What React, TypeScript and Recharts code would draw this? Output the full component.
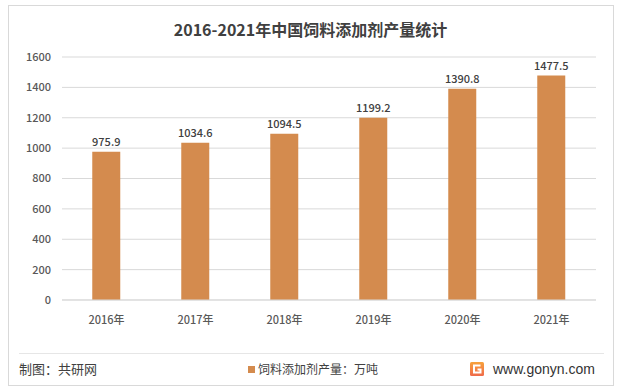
import React from 'react';
import { BarChart, Bar, XAxis, YAxis, CartesianGrid, LabelList } from 'recharts';

const years = ['2016年', '2017年', '2018年', '2019年', '2020年', '2021年'];
const output = [975.9, 1034.6, 1094.5, 1199.2, 1390.8, 1477.5];
const yTicks = [0, 200, 400, 600, 800, 1000, 1200, 1400, 1600];

const data = years.map((year, i) => ({ year, output: output[i] }));

const FONT = '"Noto Sans CJK SC", "Microsoft YaHei", sans-serif';
const BAR_COLOR = '#D48B4E';

const App: React.FC = () => {
  return (
    <div style={{ position: 'absolute', left: 0, top: 0, width: 621, height: 391, background: '#fff', fontFamily: FONT }}>
      {/* outer frame */}
      <div style={{ position: 'absolute', left: 8, top: 5, width: 606, height: 381, border: '1px solid #d9d9d9', boxSizing: 'border-box' }} />
      <div style={{ position: 'absolute', left: 0, top: 17, width: 621, textAlign: 'center', fontSize: 16, fontWeight: 'bold', color: '#404040' }}>
        2016-2021年中国饲料添加剂产量统计
      </div>
      <div style={{ position: 'absolute', left: 0, top: 0 }}>
        <BarChart width={621} height={391} data={data} margin={{ top: 57, right: 25, left: 12, bottom: 51 }} barCategoryGap="34%">
          <CartesianGrid vertical={false} stroke="#d9d9d9" />
          <XAxis
            dataKey="year"
            height={40}
            axisLine={{ stroke: '#d9d9d9' }}
            tickLine={false}
            tickMargin={10}
            tick={{ fontSize: 11, fill: '#595959', fontFamily: FONT, fontWeight: 500 }}
          />
          <YAxis
            domain={[0, 1600]}
            ticks={yTicks}
            width={50}
            axisLine={false}
            tickLine={false}
            tickMargin={5}
            tick={{ fontSize: 11, fill: '#595959', fontFamily: FONT, fontWeight: 500 }}
          />
          <Bar dataKey="output" fill={BAR_COLOR} isAnimationActive={false}>
            <LabelList dataKey="output" position="top" offset={6} style={{ fontSize: 11, fill: '#404040', fontFamily: FONT, fontWeight: 500 }} formatter={(v: number) => v.toFixed(1)} />
          </Bar>
        </BarChart>
      </div>
      {/* footer */}
      <div style={{ position: 'absolute', left: 19, top: 353, width: 585, borderTop: '1px solid #e6e6e6' }} />
      <div style={{ position: 'absolute', left: 19, top: 360, fontSize: 13, lineHeight: '18px', color: '#404040' }}>制图：共研网</div>
      <div style={{ position: 'absolute', left: 248, top: 360, display: 'flex', alignItems: 'center', fontSize: 12, lineHeight: '18px', color: '#404040' }}>
        <span style={{ width: 7, height: 7, background: BAR_COLOR, display: 'inline-block', marginRight: 3 }} />
        饲料添加剂产量：万吨
      </div>
      <div style={{ position: 'absolute', left: 470, top: 360, display: 'flex', alignItems: 'center', height: 18 }}>
        <svg width={14} height={14} viewBox="0 0 14 14">
          <defs>
            <linearGradient id="logoGrad" x1="0" y1="0" x2="0" y2="1">
              <stop offset="0%" stopColor="#F7A23B" />
              <stop offset="100%" stopColor="#EF6A4A" />
            </linearGradient>
          </defs>
          <rect x={0} y={0} width={14} height={14} rx={1.5} fill="url(#logoGrad)" />
          <path d="M10.5 3.5 H4 V10.5 H10.5 V7.5 H7.5" stroke="#fff" strokeWidth={2} fill="none" />
        </svg>
        <span style={{ marginLeft: 9, fontSize: 14, color: '#333', fontFamily: '"Liberation Sans", Arial, sans-serif' }}>www.gonyn.com</span>
      </div>
    </div>
  );
};

export default App;
